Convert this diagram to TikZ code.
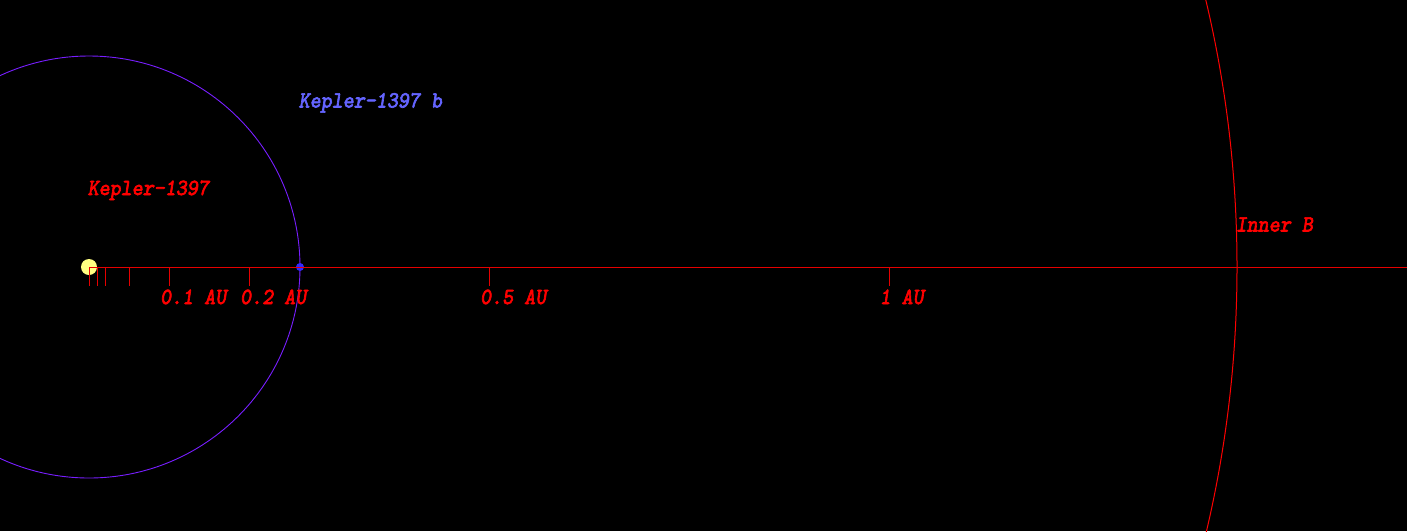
\documentclass[tikz,border=0pt]{standalone}
\usepackage{fontspec}
\newfontfamily\cour[FakeBold=3]{lmmonoslant10-regular.otf}
\definecolor{axisred}{RGB}{230,0,0}
\definecolor{orbitpurple}{RGB}{120,30,255}
\definecolor{labelblue}{RGB}{100,100,255}
\definecolor{staryellow}{RGB}{255,255,130}
\definecolor{planetblue}{RGB}{50,40,255}
\tikzset{
  lbl/.style={inner sep=0pt, anchor=base west, font=\fontsize{21}{22}\cour},
  tickmark/.style={draw=axisred, line width=0.9pt},
}
\newcommand{\tall}[1]{\scalebox{1}[1.1]{#1}}
\begin{document}
\begin{tikzpicture}[x=1pt,y=-1pt]
\fill[black] (0,0) rectangle (1407,531);
\useasboundingbox (0,0) rectangle (1407,531);
\coordinate (star) at (89,267);
% orbits
\draw[orbitpurple, line width=0.9pt] (star) circle (211);
\draw[red, line width=1pt] (star) circle (1148);
% star
\fill[staryellow] (star) circle (8);
% planet
\fill[planetblue] (300,267) circle (4) node (planet) {};
% axis
\coordinate (axend) at (1407,267);
\draw[axisred, line width=0.9pt] (star) -- (axend);
% ticks
\foreach \d/\n in {0/t0, 0.01/t1, 0.02/t2, 0.05/t5, 0.1/t10, 0.2/t20, 0.5/t50, 1/t100} {
  \coordinate (\n) at ({89+800*\d},267);
  \draw[tickmark] (\n) -- ++(0,19);
}
% labels
\node[lbl, text=red] (l1) at (160,304) {\tall{0.1 AU}};
\node[lbl, text=red] (l2) at (240,304) {\tall{0.2 AU}};
\node[lbl, text=red] (l5) at (480,304) {\tall{0.5 AU}};
\node[lbl, text=red] (l10) at (879.5,304) {\tall{1 AU}};
\node[lbl, text=red] (starname) at (87.5,195) {\tall{Kepler-1397}};
\node[lbl, text=labelblue] (planetname) at (298.5,107.5) {\tall{Kepler-1397 b}};
\node[lbl, text=red] (innerb) at (1235.5,231.5) {\tall{Inner B}};
\end{tikzpicture}
\end{document}
